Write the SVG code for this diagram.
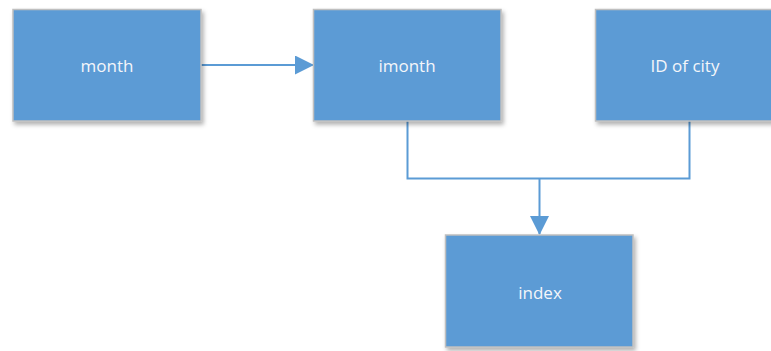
<svg xmlns="http://www.w3.org/2000/svg" width="771" height="351" viewBox="0 0 771 351">
<defs>
<filter id="sh" x="-10%" y="-10%" width="125%" height="130%">
<feDropShadow dx="2" dy="3" stdDeviation="2" flood-color="#000" flood-opacity="0.3"/>
</filter>
<marker id="ah" markerWidth="19" markerHeight="19" viewBox="0 0 19 19" refX="18" refY="9.5" orient="auto" markerUnits="userSpaceOnUse">
<path d="M0,0 L19,9.5 L0,19 Z" fill="#5b9bd5"/>
</marker>
<style>
.box{fill:#5b9bd5;stroke:#bfbfbf;stroke-width:1.5;filter:url(#sh)}
.lbl{font-family:"Open Sans","Noto Sans","Liberation Sans",sans-serif;font-size:17px;fill:#f4f6fa;text-anchor:middle}
.con{fill:none;stroke:#5b9bd5;stroke-width:2}
</style>
</defs>
<rect width="771" height="351" fill="#fff"/>
<g id="connectors">
<line class="con" x1="201" y1="65" x2="313" y2="65" stroke-width="2.5" marker-end="url(#ah)"/>
<polyline class="con" points="407.5,121 407.5,178.5 689.5,178.5 689.5,121"/>
<line class="con" x1="539.5" y1="178.5" x2="539.5" y2="234" stroke-width="2.5" marker-end="url(#ah)"/>
</g>
<g id="month">
<rect class="box" x="13" y="9.5" width="188" height="111.5"/>
<text class="lbl" x="107" y="72">month</text>
</g>
<g id="imonth">
<rect class="box" x="313.5" y="9.5" width="187.5" height="111.5"/>
<text class="lbl" x="407" y="72">imonth</text>
</g>
<g id="idcity">
<rect class="box" x="595.5" y="9.5" width="190" height="111.5"/>
<text class="lbl" x="685" y="72">ID of city</text>
</g>
<g id="index">
<rect class="box" x="445.5" y="235" width="187.5" height="112"/>
<text class="lbl" x="540" y="299">index</text>
</g>
</svg>
